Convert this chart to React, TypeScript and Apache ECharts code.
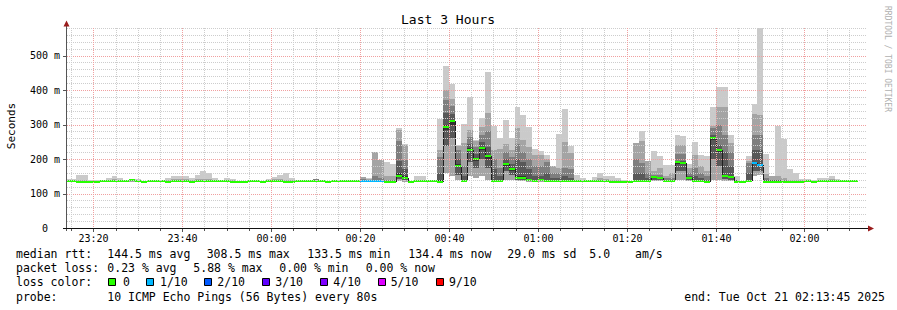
import React, { useEffect, useRef } from "react";
import * as echarts from "echarts";

// ---------- texts ----------
const chartTitle = "Last 3 Hours";
const yAxisTitle = "Seconds";
const watermark = "RRDTOOL / TOBI OETIKER";

// ---------- time window ----------
const windowStart = Date.UTC(2025, 9, 20, 23, 13, 45);
const windowEnd = Date.UTC(2025, 9, 21, 2, 13, 45);
const firstStepStart = Date.UTC(2025, 9, 20, 23, 13, 20);
const stepMs = 80000;

// ---------- axes ----------
const yMax = 580;
const yMinorStep = 20;
const xMinorMinutes = 5;
const xTickLabels = ["23:20", "23:40", "00:00", "00:20", "00:40", "01:00", "01:20", "01:40", "02:00"];

// ---------- data (ms), one value per 80 s step ----------
const medianRtt = [
  135, 135, 133, 133, 133, 133, 135, 135, 135, 135,
  135, 138, 135, 133, 135, 135, 135, 133, 135, 135,
  135, 133, 135, 135, 135, 135, 135, 135, 133, 133,
  133, 135, 135, 133, 135, 135, 135, 133, 133, 135,
  135, 135, 135, 135, 133, 135, 135, 135, 135, 135,
  135, 135, 135, 135, 133, 133, 150, 145, 133, 135,
  135, 135, 135, 133, 294, 309, 181, 135, 227, 199,
  232, 208, 135, 135, 185, 170, 146, 146, 138, 135,
  138, 135, 135, 135, 135, 135, 135, 135, 135, 135,
  135, 135, 133, 133, 133, 133, 135, 135, 135, 147,
  145, 135, 135, 190, 188, 146, 137, 135, 133, 261,
  226, 152, 147, 134, 133, 137, 189, 183, 134, 134,
  134, 133, 133, 133, 133, 135, 133, 135, 135, 135,
  135, 135, 135, 135,
];

// lost pings out of 10
const lossCount = [
  0, 0, 0, 0, 0, 0, 0, 0, 0, 0,
  0, 0, 0, 0, 0, 0, 0, 0, 0, 0,
  0, 0, 0, 0, 0, 0, 0, 0, 0, 0,
  0, 0, 0, 0, 0, 0, 0, 0, 0, 0,
  0, 0, 0, 0, 0, 0, 0, 0, 0, 0,
  1, 1, 1, 1, 0, 0, 0, 0, 0, 0,
  0, 0, 0, 0, 0, 0, 0, 0, 0, 0,
  0, 0, 0, 0, 0, 0, 0, 0, 0, 0,
  0, 0, 0, 0, 0, 0, 0, 0, 0, 0,
  0, 0, 0, 0, 0, 0, 0, 0, 0, 0,
  0, 0, 0, 0, 0, 0, 0, 0, 0, 0,
  0, 0, 0, 0, 0, 0, 1, 1, 0, 0,
  0, 0, 0, 0, 0, 0, 0, 0, 0, 0,
  0, 0, 0, 0,
];

// sorted ping ranks above the median
const ping6 = [
  136, 136, 134, 134, 134, 134, 136, 136, 136, 136,
  136, 139, 136, 134, 136, 136, 136, 134, 136, 136,
  136, 134, 136, 136, 136, 136, 136, 136, 134, 134,
  134, 136, 136, 134, 136, 136, 136, 134, 134, 136,
  136, 136, 136, 136, 134, 136, 136, 136, 136, 136,
  136, 136, 137, 137, 135, 135, 160, 150, 134, 136,
  136, 136, 136, 138, 300, 312, 185, 138, 232, 203,
  236, 212, 140, 138, 188, 173, 150, 150, 141, 138,
  140, 138, 137, 137, 137, 137, 136, 136, 136, 136,
  136, 136, 134, 134, 134, 134, 140, 140, 137, 149,
  146, 137, 137, 193, 191, 148, 140, 137, 135, 264,
  229, 155, 150, 136, 134, 140, 192, 186, 136, 136,
  136, 135, 134, 134, 134, 136, 134, 136, 136, 136,
  136, 136, 136, 136,
];
const ping7 = [
  137, 137, 135, 135, 135, 135, 137, 137, 137, 137,
  137, 140, 138, 135, 137, 137, 137, 135, 137, 137,
  137, 135, 137, 137, 137, 137, 137, 137, 135, 135,
  135, 137, 137, 135, 137, 137, 137, 135, 135, 137,
  137, 137, 138, 137, 135, 137, 137, 137, 137, 137,
  138, 137, 140, 140, 137, 137, 193, 170, 135, 137,
  137, 137, 137, 160, 334, 330, 200, 150, 245, 215,
  250, 235, 170, 150, 200, 185, 200, 190, 170, 150,
  150, 160, 145, 145, 150, 145, 137, 137, 137, 137,
  137, 137, 135, 135, 135, 135, 159, 160, 145, 150,
  148, 140, 140, 195, 193, 150, 150, 145, 140, 270,
  240, 220, 180, 138, 135, 160, 227, 227, 140, 138,
  138, 137, 135, 135, 135, 137, 135, 137, 137, 137,
  137, 137, 137, 137,
];
const ping8 = [
  138, 138, 136, 136, 136, 136, 138, 138, 139, 138,
  138, 140, 140, 136, 138, 138, 138, 136, 138, 138,
  138, 136, 138, 139, 139, 138, 138, 138, 136, 136,
  136, 138, 138, 136, 138, 138, 138, 136, 136, 138,
  138, 138, 141, 138, 136, 138, 138, 138, 138, 138,
  142, 139, 150, 145, 140, 140, 252, 198, 136, 138,
  138, 138, 138, 207, 372, 355, 225, 180, 265, 235,
  270, 280, 200, 175, 220, 205, 245, 220, 200, 180,
  179, 190, 160, 160, 174, 170, 138, 138, 138, 138,
  139, 138, 136, 136, 136, 136, 200, 189, 160, 155,
  155, 145, 145, 214, 214, 160, 175, 160, 150, 290,
  300, 270, 220, 140, 136, 188, 270, 270, 145, 140,
  140, 140, 136, 136, 136, 138, 136, 138, 138, 138,
  138, 138, 138, 138,
];
const ping9 = [
  139, 139, 138, 138, 137, 137, 139, 140, 142, 140,
  139, 141, 140, 137, 138, 138, 138, 138, 141, 141,
  141, 138, 141, 143, 143, 140, 138, 140, 138, 136,
  136, 138, 138, 136, 140, 141, 142, 140, 138, 138,
  138, 138, 143, 139, 136, 138, 139, 138, 138, 138,
  149, 142, 221, 198, 150, 150, 285, 240, 136, 140,
  140, 138, 138, 225, 401, 374, 237, 246, 285, 252,
  294, 333, 227, 230, 245, 227, 290, 255, 235, 211,
  211, 200, 179, 175, 248, 217, 140, 140, 139, 140,
  145, 141, 140, 139, 137, 136, 246, 251, 195, 164,
  175, 150, 160, 240, 240, 175, 213, 179, 165, 295,
  352, 352, 246, 140, 137, 194, 332, 329, 158, 150,
  150, 145, 140, 139, 138, 138, 137, 140, 140, 141,
  140, 138, 138, 138,
];
const ping10 = [
  143, 143, 155, 155, 138, 138, 139, 146, 152, 146,
  139, 141, 141, 137, 138, 138, 138, 146, 151, 151,
  151, 146, 155, 166, 160, 146, 138, 146, 143, 137,
  137, 138, 138, 137, 143, 149, 155, 160, 146, 138,
  138, 138, 143, 140, 137, 138, 140, 138, 138, 138,
  149, 146, 221, 198, 190, 187, 290, 245, 137, 150,
  150, 138, 138, 317, 470, 419, 240, 302, 380, 256,
  318, 451, 297, 261, 313, 261, 352, 329, 292, 230,
  224, 211, 179, 273, 346, 238, 155, 146, 140, 148,
  159, 150, 150, 145, 140, 137, 246, 280, 195, 224,
  208, 182, 182, 270, 267, 185, 249, 213, 208, 350,
  410, 410, 270, 150, 137, 208, 360, 580, 216, 152,
  295, 258, 172, 160, 143, 143, 140, 145, 146, 150,
  143, 138, 138, 138,
];

// sorted ping ranks below the median
const pingLow5 = [
  134, 134, 132, 132, 132, 132, 134, 134, 134, 134,
  134, 137, 134, 132, 134, 134, 134, 132, 134, 134,
  134, 132, 134, 134, 134, 134, 134, 134, 132, 132,
  132, 134, 134, 132, 134, 134, 134, 132, 132, 134,
  134, 134, 134, 134, 132, 134, 134, 134, 134, 134,
  134, 134, 134, 134, 132, 132, 148, 143, 132, 134,
  134, 134, 134, 132, 285, 300, 178, 134, 222, 195,
  225, 200, 134, 134, 180, 165, 144, 144, 137, 134,
  137, 134, 134, 134, 134, 134, 134, 134, 134, 134,
  134, 134, 132, 132, 132, 132, 134, 134, 134, 145,
  143, 134, 134, 187, 185, 144, 136, 134, 132, 255,
  220, 150, 145, 133, 132, 136, 185, 180, 133, 133,
  133, 132, 132, 132, 132, 134, 132, 134, 134, 134,
  134, 134, 134, 134,
];
const pingLow3 = [
  133, 133, 131, 131, 131, 131, 133, 133, 133, 133,
  133, 136, 133, 131, 133, 133, 133, 131, 133, 133,
  133, 131, 133, 133, 133, 133, 133, 133, 131, 131,
  131, 133, 133, 131, 133, 133, 133, 131, 131, 133,
  133, 133, 133, 133, 131, 133, 133, 133, 133, 133,
  133, 133, 133, 133, 131, 131, 142, 138, 131, 133,
  133, 133, 133, 132, 237, 262, 155, 133, 190, 175,
  200, 175, 133, 133, 165, 155, 140, 140, 135, 133,
  135, 133, 133, 133, 133, 133, 133, 133, 133, 133,
  133, 133, 131, 131, 131, 131, 133, 133, 133, 140,
  139, 133, 133, 165, 165, 139, 134, 133, 131, 200,
  180, 142, 140, 132, 131, 134, 165, 165, 132, 132,
  132, 131, 131, 131, 131, 133, 131, 133, 133, 133,
  133, 133, 133, 133,
];
const pingLow1 = [
  132, 132, 130, 130, 130, 130, 132, 132, 132, 132,
  132, 134, 132, 130, 132, 132, 132, 130, 132, 132,
  132, 130, 132, 132, 132, 132, 132, 132, 130, 130,
  130, 132, 132, 130, 132, 132, 132, 130, 130, 132,
  132, 132, 132, 132, 130, 132, 132, 132, 132, 132,
  132, 132, 132, 132, 130, 130, 136, 134, 130, 132,
  132, 132, 132, 131, 160, 150, 140, 132, 150, 145,
  150, 140, 132, 132, 140, 138, 135, 135, 133, 132,
  133, 132, 132, 132, 132, 132, 132, 132, 132, 132,
  132, 132, 130, 130, 130, 130, 132, 132, 132, 136,
  135, 132, 132, 138, 138, 135, 132, 132, 130, 140,
  140, 136, 136, 131, 130, 132, 150, 155, 131, 131,
  131, 130, 130, 130, 130, 132, 130, 132, 132, 132,
  132, 132, 132, 132,
];

// ---------- legend ----------
const legendLossLabels = ["0", "1/10", "2/10", "3/10", "4/10", "5/10", "9/10"];
const legendLossColors = ["#26ff00", "#00b8ff", "#0059ff", "#5e00ff", "#7e00ff", "#dd00ff", "#ff0000"];
// colour of the median marker by number of lost pings (0..10)
const lossColorByCount = ["#26ff00", "#00b8ff", "#0059ff", "#5e00ff", "#7e00ff", "#dd00ff", "#dd00ff", "#dd00ff", "#dd00ff", "#ff0000", "#ff0000"];
const smokeShades = ["#cacaca", "#a4a4a4", "#7e7e7e", "#585858", "#323232"];

const statsRtt = ["144.5 ms avg", "308.5 ms max", "133.5 ms min", "134.4 ms now", "29.0 ms sd", "5.0", "am/s"];
const statsLoss = ["0.23 % avg", "5.88 % max", "0.00 % min", "0.00 % now"];
const probeText = "10 ICMP Echo Pings (56 Bytes) every 80s";
const endText = "end: Tue Oct 21 02:13:45 2025";

const MONO = "DejaVu Sans Mono";

export default function App() {
  const ref = useRef<HTMLDivElement>(null);

  useEffect(() => {
    if (!ref.current) return;
    const chart = echarts.init(ref.current, undefined, { renderer: "svg" });

    const smokeData = medianRtt.map((m, i) => [
      firstStepStart + i * stepMs,
      firstStepStart + (i + 1) * stepMs,
      pingLow1[i], pingLow3[i], pingLow5[i],
      ping6[i], ping7[i], ping8[i], ping9[i], ping10[i],
      m, lossCount[i], i > 0 ? medianRtt[i - 1] : m,
    ]);

    const hGrid: number[] = [];
    for (let v = yMinorStep; v <= yMax; v += yMinorStep) hGrid.push(v);

    const majorTimes = xTickLabels.map((lab) => {
      const [h, mi] = lab.split(":").map(Number);
      const day = h >= 12 ? 20 : 21;
      return Date.UTC(2025, 9, day, h, mi, 0);
    });
    const labelByTime: Record<number, string> = {};
    majorTimes.forEach((t, i) => (labelByTime[t] = xTickLabels[i]));
    const vGrid: number[] = [];
    const firstMinor = Date.UTC(2025, 9, 20, 23, 15, 0);
    for (let t = firstMinor; t < windowEnd; t += xMinorMinutes * 60000) vGrid.push(t);

    const textStyle = (size: number, fill = "#000") => ({ fontFamily: MONO, fontSize: size, fill });

    const graphics: any[] = [];
    graphics.push({ type: "text", x: 448, y: 19, style: { text: chartTitle, align: "center", verticalAlign: "middle", ...textStyle(13) } });
    graphics.push({ type: "text", x: 11, y: 126, rotation: Math.PI / 2, style: { text: yAxisTitle, align: "center", verticalAlign: "middle", ...textStyle(11) } });
    graphics.push({ type: "text", x: 887, y: 59, rotation: -Math.PI / 2, style: { text: watermark, align: "center", verticalAlign: "middle", ...textStyle(8, "#b0b0b0") } });

    // axis lines and arrows
    graphics.push({ type: "line", z: 50, shape: { x1: 66.5, y1: 25, x2: 66.5, y2: 231 }, style: { stroke: "#555", lineWidth: 1 } });
    graphics.push({ type: "line", z: 50, shape: { x1: 63, y1: 228.5, x2: 869, y2: 228.5 }, style: { stroke: "#111", lineWidth: 1 } });
    graphics.push({ type: "polygon", z: 51, shape: { points: [[63.5, 26.5], [66.5, 20.5], [69.5, 26.5]] }, style: { fill: "#9a1c1c" } });
    graphics.push({ type: "polygon", z: 51, shape: { points: [[868, 225.5], [874, 228.5], [868, 231.5]] }, style: { fill: "#9a1c1c" } });

    // legend
    const rowY = [254.3, 268.3, 282.3, 296.5];
    const addText = (text: string, x: number, y: number, align = "left") =>
      graphics.push({ type: "text", x, y, style: { text, align, verticalAlign: "middle", ...textStyle(11.5) } });
    addText("median rtt:", 16, rowY[0]);
    const rttX = [107.3, 206.7, 307.3, 408.3, 507.3, 589.3, 635];
    statsRtt.forEach((s, i) => addText(s, rttX[i], rowY[0]));
    addText("packet loss:", 16, rowY[1]);
    const lossX = [107.3, 193.3, 279.3, 365.7];
    statsLoss.forEach((s, i) => addText(s, lossX[i], rowY[1]));
    addText("loss color:", 16, rowY[2]);
    const boxX = [108.5, 146.5, 204.5, 262.5, 320.5, 378.5, 436.5];
    const boxLabelX = [123, 160, 217.3, 275.3, 333.3, 390.7, 449];
    legendLossLabels.forEach((lab, i) => {
      graphics.push({ type: "rect", shape: { x: boxX[i], y: 278.5, width: 7, height: 7 }, style: { fill: legendLossColors[i], stroke: "#000", lineWidth: 1 } });
      addText(lab, boxLabelX[i], rowY[2]);
    });
    addText("probe:", 16, rowY[3]);
    addText(probeText, 107.3, rowY[3]);
    addText(endText, 885, rowY[3], "right");

    const option: any = {
      animation: false,
      useUTC: true,
      backgroundColor: "#ffffff",
      grid: { left: 66, top: 28, width: 800, height: 200, containLabel: false },
      xAxis: { type: "value", min: windowStart, max: windowEnd, show: false },
      yAxis: {
        type: "value",
        min: 0,
        max: yMax,
        interval: 100,
        axisLine: { show: false },
        axisTick: { show: false },
        splitLine: { show: false },
        axisLabel: {
          margin: 6,
          color: "#000",
          fontFamily: MONO,
          fontSize: 10,
          formatter: (v: number) => (v === 0 ? "{z|0}" : v % 100 === 0 ? `${v} m` : ""),
          rich: { z: { padding: [0, 12, 0, 0], fontFamily: MONO, fontSize: 10, color: "#000" } },
        },
      },
      graphic: graphics,
      series: [
        {
          type: "custom",
          name: "smoke",
          coordinateSystem: "cartesian2d",
          clip: true,
          silent: true,
          z: 2,
          data: smokeData,
          renderItem: (params: any, api: any) => {
            const t0 = api.value(0);
            const t1 = api.value(1);
            const xa = Math.round(api.coord([t0, 0])[0]);
            const xb = Math.round(api.coord([t1, 0])[0]);
            const w = xb - xa;
            const Y = (v: number) => api.coord([t0, v])[1];
            const l1 = api.value(2), l3 = api.value(3), l5 = api.value(4);
            const hi = [api.value(9), api.value(8), api.value(7), api.value(6), api.value(5)];
            const lo = [l1, l1, l3, l3, l5];
            const children: any[] = [];
            for (let k = 0; k < 5; k++) {
              const yt = Math.round(Y(hi[k]));
              const yb = Math.round(Y(lo[k]));
              if (yb > yt) {
                children.push({ type: "rect", shape: { x: xa, y: yt, width: w, height: yb - yt }, style: { fill: smokeShades[k] } });
              }
            }
            const med = api.value(10);
            const loss = api.value(11);
            const prev = api.value(12);
            const ym = Math.round(Y(med));
            const yp = Math.round(Y(prev));
            if (ym !== yp) {
              children.push({ type: "line", shape: { x1: xa + 0.5, y1: yp, x2: xa + 0.5, y2: ym }, style: { stroke: "#202020", lineWidth: 1 } });
            }
            children.push({ type: "rect", shape: { x: xa, y: ym - 1, width: w, height: 2 }, style: { fill: lossColorByCount[loss] } });
            return { type: "group", children };
          },
        },
        {
          type: "custom",
          name: "hgrid",
          coordinateSystem: "cartesian2d",
          clip: false,
          silent: true,
          z: 5,
          data: hGrid.map((v) => [windowStart, v]),
          renderItem: (params: any, api: any) => {
            const v = api.value(1);
            const p0 = api.coord([windowStart, v]);
            const p1 = api.coord([windowEnd, v]);
            const y = Math.round(p0[1]) + 0.5;
            const major = v % 100 === 0;
            const children: any[] = [
              { type: "line", shape: { x1: p0[0] + 1, y1: y, x2: p1[0], y2: y }, style: { stroke: major ? "#f0a0a0" : "#cdcdcd", lineWidth: 1, lineDash: [1, 1] } },
            ];
            if (major) children.push({ type: "line", shape: { x1: p0[0] - 3, y1: y, x2: p0[0], y2: y }, style: { stroke: "#555", lineWidth: 1 } });
            return { type: "group", children };
          },
        },
        {
          type: "custom",
          name: "vgrid",
          coordinateSystem: "cartesian2d",
          clip: false,
          silent: true,
          z: 5,
          data: vGrid.map((t) => [t, 0]),
          renderItem: (params: any, api: any) => {
            const t = api.value(0);
            const pb = api.coord([t, 0]);
            const pt = api.coord([t, yMax]);
            const x = Math.floor(pb[0]) + 0.5;
            const label = labelByTime[t];
            const major = label !== undefined;
            const children: any[] = [
              { type: "line", shape: { x1: x, y1: pt[1], x2: x, y2: pb[1] - 1 }, style: { stroke: major ? "#f0a0a0" : "#cdcdcd", lineWidth: 1, lineDash: [1, 1] } },
              { type: "line", shape: { x1: x, y1: pb[1] + 1, x2: x, y2: pb[1] + (major ? 4 : 3) }, style: { stroke: "#555", lineWidth: 1 } },
            ];
            if (major) {
              children.push({ type: "text", style: { text: label, x, y: pb[1] + 10, align: "center", verticalAlign: "middle", fontFamily: MONO, fontSize: 10, fill: "#000" } });
            }
            return { type: "group", children };
          },
        },
      ],
    };

    chart.setOption(option);
    return () => chart.dispose();
  }, []);

  return (
    <div
      ref={ref}
      style={{ position: "absolute", left: 0, top: 0, width: 897, height: 310, background: "#fff" }}
    />
  );
}
